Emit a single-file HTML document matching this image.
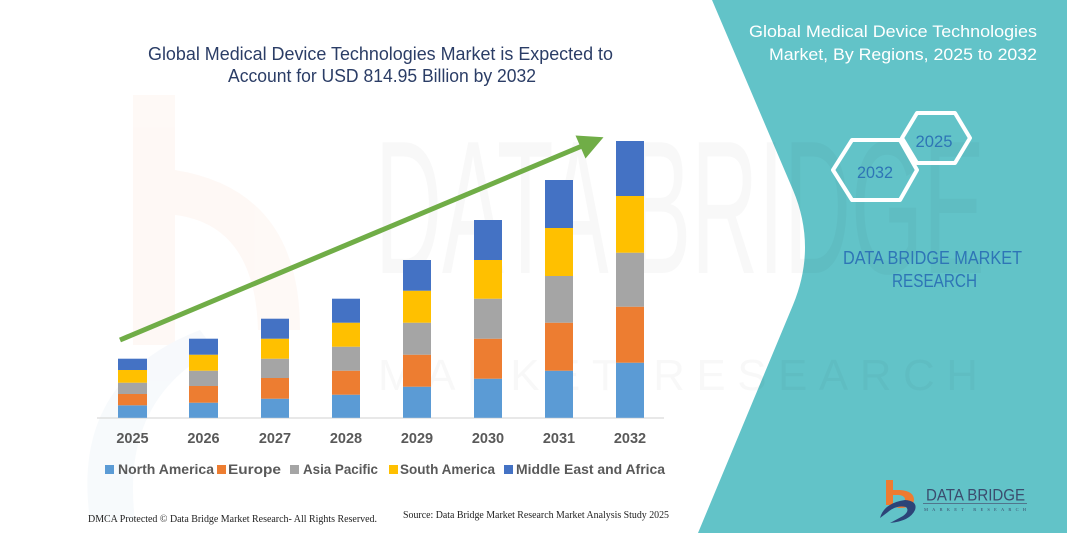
<!DOCTYPE html>
<html>
<head>
<meta charset="utf-8">
<style>
html,body{margin:0;padding:0;background:#fff;}
body{width:1067px;height:533px;overflow:hidden;}
svg{display:block;}
text{font-family:"Liberation Sans",sans-serif;}
</style>
</head>
<body>
<svg width="1067" height="533" viewBox="0 0 1067 533" xmlns="http://www.w3.org/2000/svg">
  <rect width="1067" height="533" fill="#ffffff"/>

  <!-- faint watermark logo -->
  <g opacity="0.45">
    <rect x="133" y="95" width="42" height="250" fill="#fdf1ea"/>
    <path d="M175 170 Q300 190 300 330 L258 330 Q255 225 175 215 Z" fill="#fdf1ea"/>
    <path d="M90 520 Q70 380 200 330 L215 350 Q120 400 135 520 Z" fill="#eef3f9"/>
  </g>

  <!-- teal panel -->
  <path d="M712 0 L1067 0 L1067 533 L698 533 L793 305 Q817 247 793 190 Z" fill="#62C3C8"/>

  <!-- faint watermark text -->
  <g fill="#000" fill-opacity="0.028" style="font-family:'DejaVu Sans',sans-serif" font-weight="100">
    <text x="375" y="273" font-size="190" textLength="610" lengthAdjust="spacingAndGlyphs">DATA BRIDGE</text>
    <text x="378" y="390" font-size="44" textLength="600" lengthAdjust="spacing">MARKET RESEARCH</text>
  </g>

  <!-- main title -->
  <text x="148" y="60" font-size="18" fill="#2B3D66" textLength="465" lengthAdjust="spacingAndGlyphs">Global Medical Device Technologies Market is Expected to</text>
  <text x="228" y="82" font-size="18" fill="#2B3D66" textLength="308" lengthAdjust="spacingAndGlyphs">Account for USD 814.95 Billion by 2032</text>

  <!-- axis line -->
  <line x1="97" y1="418" x2="664" y2="418" stroke="#D9D9D9" stroke-width="1.2"/>

  <!-- bars -->
  <g>
    <rect x="118" y="405.3" width="29" height="12.5" fill="#5B9BD5"/>
    <rect x="118" y="394" width="29" height="11.3" fill="#ED7D31"/>
    <rect x="118" y="382.7" width="29" height="11.3" fill="#A5A5A5"/>
    <rect x="118" y="370" width="29" height="12.7" fill="#FFC000"/>
    <rect x="118" y="358.7" width="29" height="11.3" fill="#4472C4"/>

    <rect x="189" y="402.7" width="29" height="15.1" fill="#5B9BD5"/>
    <rect x="189" y="386" width="29" height="16.7" fill="#ED7D31"/>
    <rect x="189" y="370.7" width="29" height="15.3" fill="#A5A5A5"/>
    <rect x="189" y="354.7" width="29" height="16" fill="#FFC000"/>
    <rect x="189" y="338.7" width="29" height="16" fill="#4472C4"/>

    <rect x="261" y="398.7" width="28" height="19.1" fill="#5B9BD5"/>
    <rect x="261" y="378" width="28" height="20.7" fill="#ED7D31"/>
    <rect x="261" y="358.7" width="28" height="19.3" fill="#A5A5A5"/>
    <rect x="261" y="338.7" width="28" height="20" fill="#FFC000"/>
    <rect x="261" y="318.7" width="28" height="20" fill="#4472C4"/>

    <rect x="332" y="394.7" width="28" height="23.1" fill="#5B9BD5"/>
    <rect x="332" y="370.7" width="28" height="24" fill="#ED7D31"/>
    <rect x="332" y="346.7" width="28" height="24" fill="#A5A5A5"/>
    <rect x="332" y="322.7" width="28" height="24" fill="#FFC000"/>
    <rect x="332" y="298.7" width="28" height="24" fill="#4472C4"/>

    <rect x="403" y="386.7" width="28" height="31.1" fill="#5B9BD5"/>
    <rect x="403" y="354.7" width="28" height="32" fill="#ED7D31"/>
    <rect x="403" y="322.7" width="28" height="32" fill="#A5A5A5"/>
    <rect x="403" y="290.7" width="28" height="32" fill="#FFC000"/>
    <rect x="403" y="260" width="28" height="30.7" fill="#4472C4"/>

    <rect x="474" y="378.7" width="28" height="39.1" fill="#5B9BD5"/>
    <rect x="474" y="338.7" width="28" height="40" fill="#ED7D31"/>
    <rect x="474" y="298.7" width="28" height="40" fill="#A5A5A5"/>
    <rect x="474" y="260" width="28" height="38.7" fill="#FFC000"/>
    <rect x="474" y="220" width="28" height="40" fill="#4472C4"/>

    <rect x="545" y="370.7" width="28" height="47.1" fill="#5B9BD5"/>
    <rect x="545" y="322.7" width="28" height="48" fill="#ED7D31"/>
    <rect x="545" y="276" width="28" height="46.7" fill="#A5A5A5"/>
    <rect x="545" y="228" width="28" height="48" fill="#FFC000"/>
    <rect x="545" y="180" width="28" height="48" fill="#4472C4"/>

    <rect x="616" y="362.7" width="28" height="55.1" fill="#5B9BD5"/>
    <rect x="616" y="306.7" width="28" height="56" fill="#ED7D31"/>
    <rect x="616" y="252.7" width="28" height="54" fill="#A5A5A5"/>
    <rect x="616" y="196" width="28" height="56.7" fill="#FFC000"/>
    <rect x="616" y="141" width="28" height="55" fill="#4472C4"/>
  </g>

  <!-- arrow -->
  <line x1="120" y1="340" x2="582" y2="146" stroke="#70AD47" stroke-width="5"/>
  <polygon points="603.5,137.3 575.5,135.5 585.5,158.5" fill="#70AD47"/>

  <!-- year labels -->
  <g font-size="14.5" font-weight="bold" fill="#595959" text-anchor="middle">
    <text x="132.5" y="443">2025</text>
    <text x="203.5" y="443">2026</text>
    <text x="275" y="443">2027</text>
    <text x="346" y="443">2028</text>
    <text x="417" y="443">2029</text>
    <text x="488" y="443">2030</text>
    <text x="559" y="443">2031</text>
    <text x="630" y="443">2032</text>
  </g>

  <!-- legend -->
  <g font-size="14" font-weight="bold" fill="#595959">
    <rect x="105" y="465" width="9" height="9" fill="#5B9BD5"/>
    <text x="118" y="474" textLength="96" lengthAdjust="spacingAndGlyphs">North America</text>
    <rect x="217" y="465" width="9" height="9" fill="#ED7D31"/>
    <text x="228" y="474" textLength="53" lengthAdjust="spacingAndGlyphs">Europe</text>
    <rect x="290" y="465" width="9" height="9" fill="#A5A5A5"/>
    <text x="303" y="474" textLength="75" lengthAdjust="spacingAndGlyphs">Asia Pacific</text>
    <rect x="389" y="465" width="9" height="9" fill="#FFC000"/>
    <text x="400" y="474" textLength="95" lengthAdjust="spacingAndGlyphs">South America</text>
    <rect x="504" y="465" width="9" height="9" fill="#4472C4"/>
    <text x="516" y="474" textLength="149" lengthAdjust="spacingAndGlyphs">Middle East and Africa</text>
  </g>

  <!-- footer -->
  <text x="88" y="522" font-size="10" fill="#222" style="font-family:'Liberation Serif',serif" textLength="289" lengthAdjust="spacingAndGlyphs">DMCA Protected © Data Bridge Market Research-  All Rights Reserved.</text>
  <text x="403" y="518" font-size="10" fill="#222" style="font-family:'Liberation Serif',serif" textLength="266" lengthAdjust="spacingAndGlyphs">Source: Data Bridge Market Research  Market Analysis Study 2025</text>

  <!-- right panel title -->
  <text x="1037" y="37" font-size="17" fill="#ffffff" text-anchor="end" textLength="288" lengthAdjust="spacingAndGlyphs">Global Medical Device Technologies</text>
  <text x="1037" y="60" font-size="17" fill="#ffffff" text-anchor="end" textLength="268" lengthAdjust="spacingAndGlyphs">Market, By Regions, 2025 to 2032</text>

  <!-- hexagons -->
  <polygon points="902,138 917,113 955,113 970,138 955,163 917,163" fill="none" stroke="#ffffff" stroke-width="4" stroke-linejoin="round"/>
  <polygon points="833,170 852,140 900,140 917,170 900,200 852,200" fill="none" stroke="#ffffff" stroke-width="4" stroke-linejoin="round"/>
  <text x="934" y="147" font-size="17" fill="#2E75B6" text-anchor="middle" textLength="37" lengthAdjust="spacingAndGlyphs">2025</text>
  <text x="875" y="178" font-size="17" fill="#2E75B6" text-anchor="middle" textLength="36" lengthAdjust="spacingAndGlyphs">2032</text>

  <!-- DBMR text -->
  <text x="843" y="264" font-size="18" fill="#2E75B6" textLength="179" lengthAdjust="spacingAndGlyphs">DATA BRIDGE MARKET</text>
  <text x="892" y="287" font-size="18" fill="#2E75B6" textLength="85" lengthAdjust="spacingAndGlyphs">RESEARCH</text>

  <!-- logo -->
  <g>
    <rect x="886" y="480" width="7" height="14" fill="#EE7B30"/>
    <path d="M886 490 L900 490 Q914 491 914 500 Q913 508 900 508 L896 508 Q905 505 905 499 Q904 495 898 495 L893 495 L893 505 L886 505 Z" fill="#EE7B30"/>
    <path d="M880 518 Q884 503 905 500 Q918 501 915 510 Q910 521 890 523 L903 516 Q910 511 906 507 Q896 505 888 512 Z" fill="#2C4478"/>
    <text x="926" y="500.7" font-size="17" fill="#3B4C6E" textLength="99" lengthAdjust="spacingAndGlyphs">DATA BRIDGE</text>
    <line x1="923" y1="503.5" x2="1027" y2="503.5" stroke="#4B5B7A" stroke-width="0.8"/>
    <text x="924" y="511" font-size="4.5" fill="#3B4C6E" style="font-family:'Liberation Serif',serif" textLength="102" lengthAdjust="spacing">MARKET  RESEARCH</text>
  </g>
</svg>
</body>
</html>
